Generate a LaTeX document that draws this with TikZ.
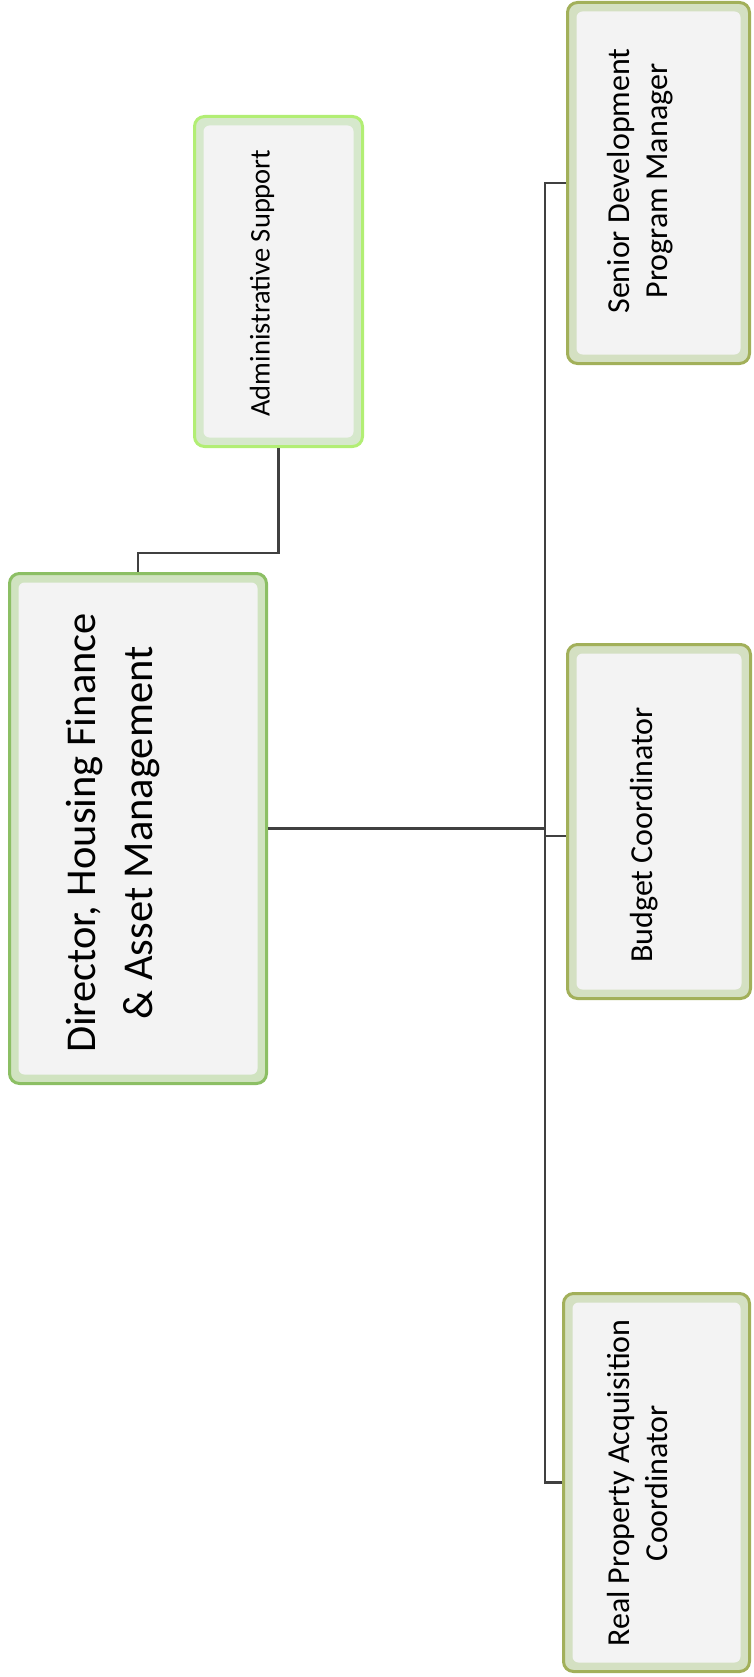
\documentclass[tikz,border=0pt]{standalone}
\usepackage{fontspec}
\setmainfont{Carlito}
\definecolor{conn}{HTML}{404040}
\definecolor{dirout}{HTML}{8CBF64}
\definecolor{dirband}{HTML}{D0E3C0}
\definecolor{admout}{HTML}{B2EE74}
\definecolor{admband}{HTML}{D6E8CC}
\definecolor{olout}{HTML}{A2B05A}
\definecolor{olband}{HTML}{D4E0C2}
\definecolor{innerfill}{HTML}{F3F3F3}
\tikzset{
  box/.style={rectangle, rounded corners=10pt, line width=3pt, inner sep=0pt,
    path picture={\fill[innerfill, rounded corners=6pt]
      ([shift={(9pt,-9pt)}]path picture bounding box.north west) rectangle
      ([shift={(-9pt,9pt)}]path picture bounding box.south east);}},
  dirbox/.style={box, draw=dirout, fill=dirband},
  admbox/.style={box, draw=admout, fill=admband},
  olbox/.style={box, draw=olout, fill=olband},
  lbl/.style={rotate=90, align=center, inner sep=0pt, text=black},
  conline/.style={draw=conn, line width=2.5pt},
}
\begin{document}
\begin{tikzpicture}[x=1pt,y=-1pt]
\useasboundingbox (0,0) rectangle (753,1677);
% boxes
\node[dirbox, minimum width=257pt, minimum height=510pt] (dir) at (138,828.5) {};
\node[admbox, minimum width=168pt, minimum height=330pt] (adm) at (278.5,281.5) {};
\node[olbox, minimum width=182pt, minimum height=361pt] (sen) at (658.5,183) {};
\node[olbox, minimum width=183pt, minimum height=354pt] (bud) at (659,821.5) {};
\node[olbox, minimum width=186pt, minimum height=378pt] (rea) at (656.5,1482.5) {};
% labels
\node[lbl, font=\fontsize{42.5}{57}\selectfont] (dirt) at (113,833) {Director, Housing Finance\\\& Asset Management};
\node[lbl, font=\fontsize{28.5}{34}\selectfont] (admt) at (262,283) {Administrative Support};
\node[lbl, font=\fontsize{32}{38}\selectfont] (sent) at (640,181) {Senior Development\\Program Manager};
\node[lbl, font=\fontsize{32}{38}\selectfont] (budt) at (644,835) {Budget Coordinator};
\node[lbl, font=\fontsize{32}{38}\selectfont] (reat) at (637,1483) {Real Property Acquisition\\Coordinator};
% connectors
\coordinate (hub) at (545,828.5);
\draw[conline] (dir.east) -- (hub);
\draw[conline] (hub) |- (sen.west);
\draw[conline] (hub) |- ([yshift=-14.5pt]bud.west);
\draw[conline] (hub) |- (rea.west);
\draw[conline] (adm.south) -- ++(0,105) -| (dir.north);
\end{tikzpicture}
\end{document}
